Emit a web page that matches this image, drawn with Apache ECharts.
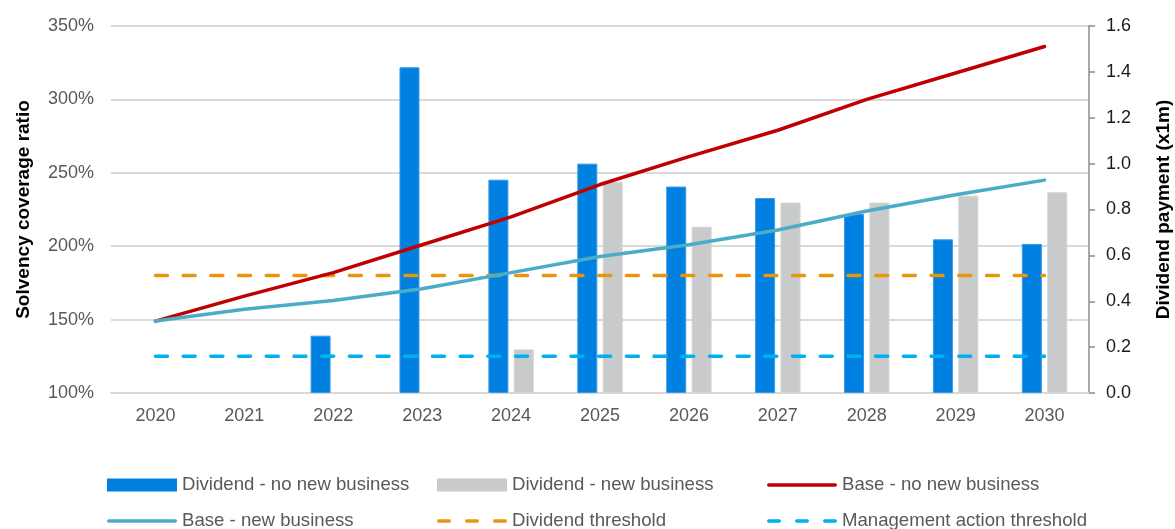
<!DOCTYPE html>
<html>
<head>
<meta charset="utf-8">
<script src="https://cdn.jsdelivr.net/npm/echarts@6/dist/echarts.min.js"></script>
<style>
html,body{margin:0;padding:0;background:#fff;}
#chart{width:1175px;height:529px;}
</style>
</head>
<body>
<div id="chart"></div>
<script>
const years = ['2020','2021','2022','2023','2024','2025','2026','2027','2028','2029','2030'];
const dividendNoNew = [null, null, 0.25, 1.42, 0.93, 1.00, 0.90, 0.85, 0.78, 0.67, 0.65];
const dividendNew   = [null, null, null, null, 0.19, 0.92, 0.725, 0.83, 0.83, 0.86, 0.875];
const baseNoNew     = [149, 166, 182, 201, 220, 242, 261, 279, 300, 318, 336];
const baseNew       = [149, 157, 163, 171, 182, 193, 201, 211, 224, 235, 245];
const dividendThreshold = [180, 180, 180, 180, 180, 180, 180, 180, 180, 180, 180];
const mgmtThreshold     = [125, 125, 125, 125, 125, 125, 125, 125, 125, 125, 125];
const leftTicks = {min: 100, max: 350, interval: 50};
const rightTicks = {min: 0, max: 1.6, interval: 0.2};

const FONT = '"Liberation Sans", Arial, sans-serif';
const C = {
  blue: '#0080E0', gray: '#C8CACB', red: '#C00000', teal: '#4BACC6',
  orange: '#E8960C', lightBlue: '#00B0F0'
};
const names = ['Dividend - no new business','Dividend - new business','Base - no new business',
  'Base - new business','Dividend threshold','Management action threshold'];

const solidIcon = 'path://M1.75,0h66.5a1.75,1.75,0,0,1,0,3.5h-66.5a1.75,1.75,0,0,1,0,-3.5Z';
const dashIcon = 'path://M1.75,0h10.5a1.75,1.75,0,0,1,0,3.5h-10.5a1.75,1.75,0,0,1,0,-3.5Z' +
  'M29.75,0h10.5a1.75,1.75,0,0,1,0,3.5h-10.5a1.75,1.75,0,0,1,0,-3.5Z' +
  'M57.75,0h10.5a1.75,1.75,0,0,1,0,3.5h-10.5a1.75,1.75,0,0,1,0,-3.5Z';
const icons = ['rect','rect',solidIcon,solidIcon,dashIcon,dashIcon];
const iconH = [13,13,3.5,3.5,3.5,3.5];
const iconColors = [C.blue, C.gray, C.red, C.teal, C.orange, C.lightBlue];

const legendPos = [[107,474],[437,474],[767,474],[107,510],[437,510],[767,510]];
const legends = names.map((n,i)=>({
  data:[{name:n, icon: icons[i], itemStyle:{color:iconColors[i], borderWidth:0, opacity:1}}],
  left: legendPos[i][0], top: legendPos[i][1], padding: 0,
  itemWidth: 70, itemHeight: iconH[i], itemGap: 0, symbolKeepAspect:false,
  lineStyle:{opacity:0, width:0},
  textStyle:{fontFamily:FONT, fontSize:18.6, color:'#595959', lineHeight:22},
  selectedMode:false
}));

const dash = [12, 15.7];
const option = {
  backgroundColor:'#fff',
  animation:false,
  textStyle:{fontFamily:FONT},
  grid:{left:111, right:86, top:26, bottom:136, containLabel:false, outerBoundsMode:'none'},
  legend: legends,
  xAxis:{
    type:'category', data: years, boundaryGap:true,
    axisLine:{show:true, lineStyle:{color:'#D9D9D9', width:2}},
    axisTick:{show:false},
    axisLabel:{fontFamily:FONT, fontSize:18, color:'#595959', margin:14}
  },
  yAxis:[
    {
      type:'value', min:leftTicks.min, max:leftTicks.max, interval:leftTicks.interval,
      position:'left',
      name:'Solvency coverage ratio', nameLocation:'middle', nameRotate:90, nameGap:78,
      nameTextStyle:{fontFamily:FONT, fontSize:19, fontWeight:'bold', color:'#000'},
      axisLine:{show:false}, axisTick:{show:false},
      axisLabel:{fontFamily:FONT, fontSize:18, color:'#595959', margin:17, formatter:'{value}%'},
      splitLine:{show:true, lineStyle:{color:'#D9D9D9', width:2}}
    },
    {
      type:'value', min:rightTicks.min, max:rightTicks.max, interval:rightTicks.interval,
      position:'right',
      name:'Dividend payment (x1m)', nameLocation:'middle', nameRotate:90, nameGap:65,
      nameTextStyle:{fontFamily:FONT, fontSize:19, fontWeight:'bold', color:'#000'},
      axisLine:{show:true, lineStyle:{color:'#8C8C8C', width:1.5}},
      axisTick:{show:true, length:6, inside:false, lineStyle:{color:'#8C8C8C', width:1.5}},
      axisLabel:{fontFamily:FONT, fontSize:18, color:'#1a1a1a', margin:17,
        formatter:(v)=>v.toFixed(1)},
      splitLine:{show:false}
    }
  ],
  series:[
    {name:names[0], type:'bar', yAxisIndex:1, data:dividendNoNew, barWidth:20, barGap:'27%',
      itemStyle:{color:C.blue, borderColor:'#3A98E6', borderWidth:1}, z:2},
    {name:names[1], type:'bar', yAxisIndex:1, data:dividendNew, barWidth:20, barGap:'27%',
      itemStyle:{color:C.gray, borderColor:'#D2D4D5', borderWidth:1}, z:2},
    {name:names[2], type:'line', yAxisIndex:0, data:baseNoNew, symbol:'none',
      lineStyle:{color:C.red, width:3.5, cap:'round'}, itemStyle:{color:C.red}, z:5},
    {name:names[3], type:'line', yAxisIndex:0, data:baseNew, symbol:'none',
      lineStyle:{color:C.teal, width:3.5, cap:'round'}, itemStyle:{color:C.teal}, z:5},
    {name:names[4], type:'line', yAxisIndex:0, data:dividendThreshold, symbol:'none',
      lineStyle:{color:C.orange, width:3.5, type:dash, cap:'round'}, itemStyle:{color:C.orange}, z:4},
    {name:names[5], type:'line', yAxisIndex:0, data:mgmtThreshold, symbol:'none',
      lineStyle:{color:C.lightBlue, width:3.5, type:dash, cap:'round'}, itemStyle:{color:C.lightBlue}, z:4}
  ]
};
const chart = echarts.init(document.getElementById('chart'), null, {renderer:'canvas'});
chart.setOption(option);
</script>
</body>
</html>
